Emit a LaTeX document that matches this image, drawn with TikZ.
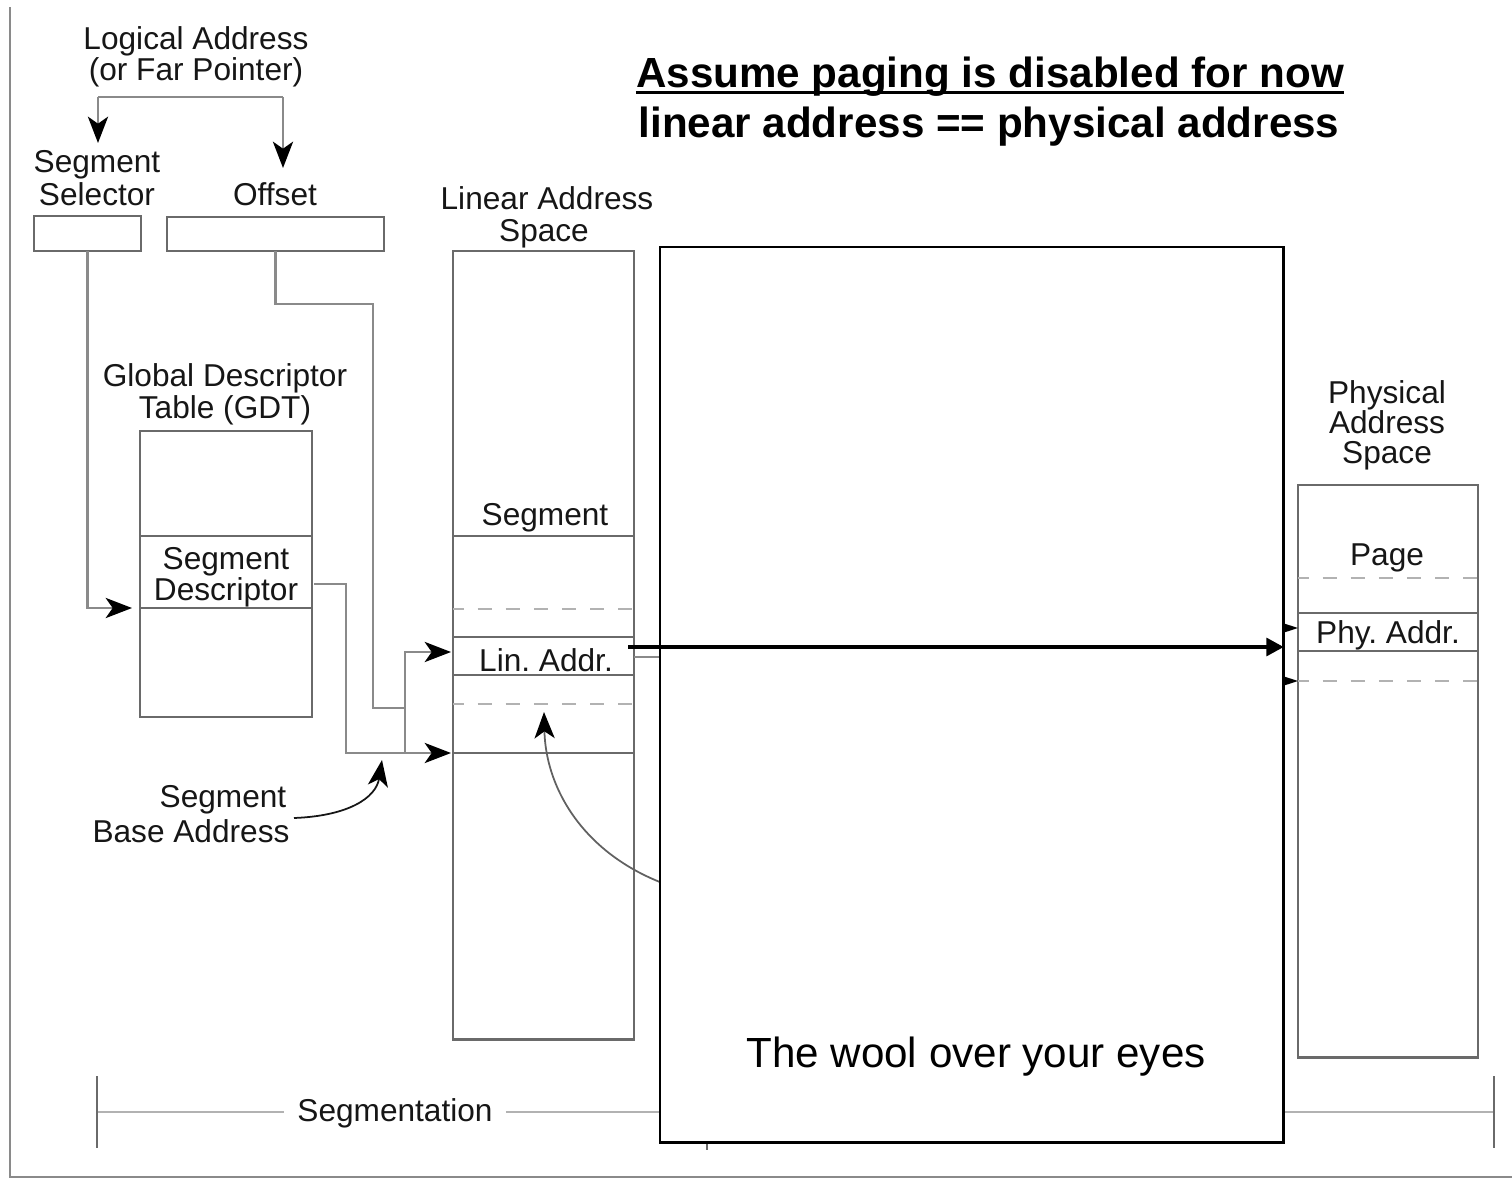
\documentclass[tikz,border=0pt]{standalone}
\usepackage{fontspec}
\setmainfont{Liberation Sans}
\usetikzlibrary{arrows.meta}
\definecolor{boxgray}{HTML}{6A6A6A}
\definecolor{linegray}{HTML}{8A8A8A}
\definecolor{dashgray}{HTML}{B2B2B2}
\definecolor{inkdark}{HTML}{161616}
\frenchspacing

\begin{document}
\begin{tikzpicture}[x=0.02cm,y=-0.02cm,
  lbl/.style={font=\fontsize{18}{20}\selectfont, text=inkdark, anchor=base, inner sep=0pt},
  membox/.style={draw=boxgray, line width=1.6pt, anchor=north west, inner sep=0pt, outer sep=0pt},
  conn/.style={draw=linegray, line width=1.3pt},
  arr/.style={-{Stealth[length=15pt,width=11.5pt,inset=4pt,color=black]}},
  divider/.style={draw=boxgray, line width=1.3pt},
  dashdiv/.style={draw=dashgray, line width=1.6pt, dash pattern=on 8pt off 8pt, dash phase=2pt},
  note/.style={font=\bfseries\fontsize{24}{28}\selectfont, text=black, anchor=base, inner sep=0pt}
]
\useasboundingbox (0,0) rectangle (1512,1180);

% outer frame (left and bottom edges)
\coordinate (frTL) at (10,7);
\coordinate (frBL) at (10,1177);
\coordinate (frBR) at (1512,1177);
\draw[draw=linegray, line width=1.5pt] (frTL) -- (frBL) -- (frBR);

% ---- logical address ----
\node[lbl] (la1) at (196,49) {Logical Address};
\node[lbl] (la2) at (196,80) {(or Far Pointer)};
\coordinate (forkL) at (98,97);
\coordinate (forkR) at (283,97);
\coordinate (selhead) at (98,143);
\coordinate (offhead) at (283,168);
\draw[conn] (forkL) -- (forkR);
\draw[conn, arr] (forkL) -- (selhead);
\draw[conn, arr] (forkR) -- (offhead);

\node[lbl] (ss1) at (97,172) {Segment};
\node[lbl] (ss2) at (97,205) {Selector};
\node[lbl] (offl) at (275,205) {Offset};

\node[membox, minimum width=2.14cm, minimum height=0.70cm] (selbox) at (34,216) {};
\node[membox, minimum width=4.34cm, minimum height=0.68cm] (offbox) at (167,217) {};

% ---- global descriptor table ----
\node[lbl] (gdt1) at (225,386) {Global Descriptor};
\node[lbl] (gdt2) at (225,418) {Table (GDT)};
\node[membox, minimum width=3.44cm, minimum height=5.72cm] (gdt) at (140,431) {};
\draw[divider] (gdt.west |- 0,536) -- (gdt.east |- 0,536);
\draw[divider] (gdt.west |- 0,608) -- (gdt.east |- 0,608);
\node[lbl] (sd1) at (226,569) {Segment};
\node[lbl] (sd2) at (226,600) {Descriptor};

% selector indexes the GDT
\coordinate (gdtin) at (132,608);
\draw[conn, arr] (selbox.south) |- (gdtin);

% offset path to the adder
\coordinate (obend) at (373,304);
\coordinate (ojoin) at (405,708);
\draw[conn] (offbox.south) |- (obend) |- (ojoin);

% descriptor base to the linear space
\coordinate (sdout) at (314,584);
\coordinate (sdbend) at (346,584);
\coordinate (linbase) at (451,753);
\coordinate (jlow) at (405,753);
\coordinate (linaddrin) at (451,652);
\draw[conn, arr] (sdout) -- (sdbend) |- (linbase);
\draw[conn, arr] (jlow) |- (linaddrin);

% segment base address callout
\node[lbl] (sba1) at (223,807) {Segment};
\node[lbl] (sba2) at (191,842) {Base Address};
\coordinate (sbafrom) at (294,818);
\coordinate (sbato) at (382,760);
\draw[draw=inkdark, line width=1pt, arr] (sbafrom) .. controls (348,816) and (376,798) .. (sbato);

% ---- linear address space ----
\node[lbl] (lin1) at (547,209) {Linear Address};
\node[lbl] (lin2) at (544,241) {Space};
\node[membox, minimum width=3.62cm, minimum height=15.78cm] (lin) at (453,251) {};
\draw[divider] (lin.west |- 0,536) -- (lin.east |- 0,536);
\draw[dashdiv] (lin.west |- 0,609) -- (lin.east |- 0,609);
\draw[divider] (lin.west |- 0,637) -- (lin.east |- 0,637);
\draw[divider] (lin.west |- 0,675) -- (lin.east |- 0,675);
\draw[dashdiv] (lin.west |- 0,704) -- (lin.east |- 0,704);
\draw[divider] (lin.west |- 0,753) -- (lin.east |- 0,753);
\node[lbl] (segl) at (545,525) {Segment};
\node[lbl] (linaddr) at (546,671) {Lin. Addr.};

\coordinate (linexit) at (720,657);
\draw[conn, line width=1.6pt] (lin.east |- linexit) -- (linexit);

\coordinate (curvefrom) at (720,898);
\coordinate (curveto) at (544,712);
\draw[draw=linegray!70!black, line width=1pt, arr] (curvefrom) .. controls (600,880) and (546,800) .. (curveto);

% ---- physical address space ----
\node[lbl] (ph1) at (1387,403) {Physical};
\node[lbl] (ph2) at (1387,433) {Address};
\node[lbl] (ph3) at (1387,463) {Space};
\node[membox, minimum width=3.60cm, minimum height=11.46cm] (phys) at (1298,485) {};
\draw[dashdiv] (phys.west |- 0,578) -- (phys.east |- 0,578);
\draw[divider] (phys.west |- 0,613) -- (phys.east |- 0,613);
\draw[divider] (phys.west |- 0,651) -- (phys.east |- 0,651);
\draw[dashdiv] (phys.west |- 0,681) -- (phys.east |- 0,681);
\node[lbl] (page) at (1387,565) {Page};
\node[lbl] (phyaddr) at (1388,643) {Phy. Addr.};

\coordinate (stubA) at (1250,628);
\coordinate (stubB) at (1250,681);
\draw[conn, -{Stealth[length=14pt,width=9pt,inset=3pt,color=black]}] (stubA) -- (phys.west |- stubA);
\draw[conn, -{Stealth[length=14pt,width=9pt,inset=3pt,color=black]}] (stubB) -- (phys.west |- stubB);

% ---- segmentation span ----
\coordinate (segL) at (97,1112);
\coordinate (segR) at (1494,1112);
\coordinate (segM) at (707,1112);
\node[lbl, inner xsep=0.26cm] (segm) at (395,1121) {Segmentation};
\draw[draw=dashgray, line width=1.4pt] (segL) -- (segm.west |- segL);
\draw[draw=dashgray, line width=1.4pt] (segm.east |- segR) -- (segR);
\draw[draw=boxgray, line width=1.4pt] ([yshift=0.72cm]segL) -- ([yshift=-0.72cm]segL);
\draw[draw=boxgray, line width=1.4pt] ([yshift=0.72cm]segR) -- ([yshift=-0.72cm]segR);
\draw[draw=boxgray, line width=1.2pt] ([yshift=0.72cm]segM) -- ([yshift=-0.76cm]segM);

% ---- covering panel ----
\node[draw=black, line width=1.6pt, fill=white, anchor=north west, inner sep=0pt, outer sep=0pt,
      minimum width=12.48cm, minimum height=17.92cm] (veil) at (660,247) {};
\node[font=\fontsize{24}{28}\selectfont, anchor=base, inner sep=0pt] (wool) at (976,1067) {The wool over your eyes};

% linear address maps straight to physical
\coordinate (tstart) at (628,647);
\draw[line width=2.7pt, -{Triangle[length=10pt,width=10pt]}] (tstart) -- (veil.east |- tstart);

% ---- note ----
\node[note] (note1) at (990,87) {Assume paging is disabled for now};
\draw[line width=1.7pt] ([yshift=-3pt]note1.base west) -- ([yshift=-3pt]note1.base east);
\node[note] (note2) at (989,137) {linear address == physical address};

\end{tikzpicture}
\end{document}
